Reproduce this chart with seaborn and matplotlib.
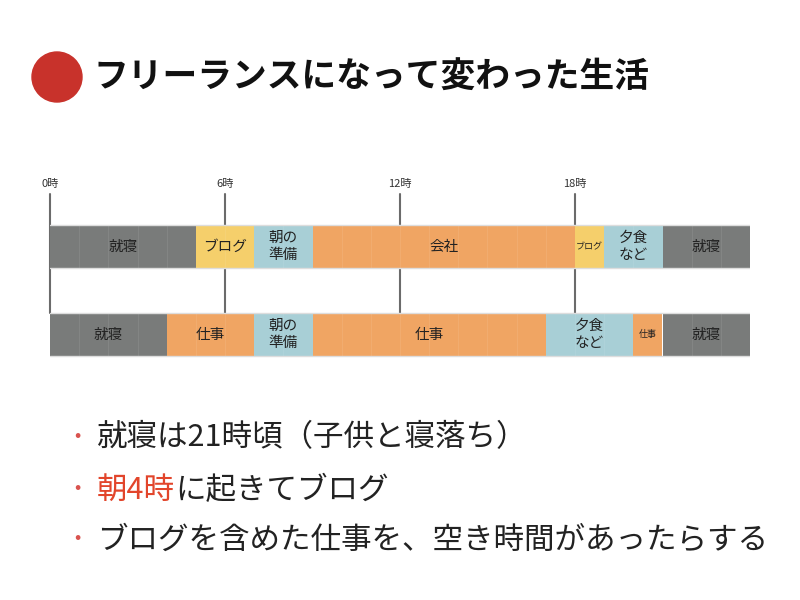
import matplotlib
matplotlib.use("Agg")
import matplotlib.pyplot as plt
import seaborn as sns
from matplotlib.patches import Circle

sns.set_theme(style="white")
FONT = "Noto Sans CJK JP"
plt.rcParams["font.family"] = FONT

# Data: (label, start hour, end hour, kind)
before_labels = ["就寝", "ブログ", "朝の\n準備", "会社", "ブログ", "夕食\nなど", "就寝"]
before_start = [0, 5, 7, 9, 18, 19, 21]
before_end = [5, 7, 9, 18, 19, 21, 24]
before_kind = ["sleep", "blog", "prep", "work", "blog", "dinner", "sleep"]

after_labels = ["就寝", "仕事", "朝の\n準備", "仕事", "夕食\nなど", "仕事", "就寝"]
after_start = [0, 4, 7, 9, 17, 20, 21]
after_end = [4, 7, 9, 17, 20, 21, 24]
after_kind = ["sleep", "work", "prep", "work", "dinner", "work", "sleep"]

tick_hours = [0, 6, 12, 18]
tick_labels = ["0時", "6時", "12時", "18時"]

title = "フリーランスになって変わった生活"
bullets = ["就寝は21時頃（子供と寝落ち）", None, "ブログを含めた仕事を、空き時間があったらする"]

colors = {"sleep": "#797b7a", "blog": "#f5cf6b", "prep": "#a8cfd6",
          "work": "#f0a563", "dinner": "#a8cfd6"}

fig = plt.figure(figsize=(8, 6), dpi=100)
W, H = 800, 600
ax = fig.add_axes([50 / W, 1 - 370 / H, 700 / W, 200 / H])
ax.set_xlim(0, 24)
ax.set_ylim(370, 170)
ax.axis("off")

for h, lab in zip(tick_hours, tick_labels):
    ax.plot([h, h], [194, 313], color="#6b6b6b", lw=1.5, zorder=1, clip_on=False)
    ax.text(h, 184, lab, ha="center", va="center", fontsize=8, color="#333333")

rows = [(225, 268, before_labels, before_start, before_end, before_kind),
        (313, 356, after_labels, after_start, after_end, after_kind)]
for top, bot, labels, st, en, kd in rows:
    for lab, s, e, k in zip(labels, st, en, kd):
        ax.barh((top + bot) / 2, e - s, left=s, height=bot - top,
                color=colors[k], edgecolor="none", zorder=2)
        for hh in range(s + 1, e):
            ax.plot([hh, hh], [top, bot], color="white", alpha=0.08, lw=0.8, zorder=3)
        fs = 6.5 if (e - s) == 1 else 10.5
        ax.text((s + e) / 2, (top + bot) / 2, lab, ha="center", va="center",
                fontsize=fs, color="#222222", zorder=4, linespacing=1.3)
    ax.plot([0, 24], [top, top], color="#dddddd", lw=1, zorder=3)
    ax.plot([0, 24], [bot, bot], color="#dddddd", lw=1, zorder=3)

ov = fig.add_axes([0, 0, 1, 1])
ov.set_xlim(0, W)
ov.set_ylim(H, 0)
ov.axis("off")
ov.add_patch(Circle((57, 77), 25, color="#c8322b"))
ov.text(93, 77, title, fontsize=25, fontweight="bold", va="center", ha="left", color="#111111")

ys = [438, 490, 540]
for y in ys:
    ov.text(77, y, "・", fontsize=16, color="#d9534f", va="center", ha="center")
ov.text(97, ys[0], bullets[0], fontsize=22, va="center", ha="left", color="#222222")
t = ov.text(97, ys[1], "朝4時", fontsize=22, va="center", ha="left", color="#e2452b")
ov.annotate("に起きてブログ", xycoords=t, xy=(1, 0.5), va="center", ha="left",
            fontsize=22, color="#222222")
ov.text(97, ys[2], bullets[2], fontsize=22, va="center", ha="left", color="#222222")

fig.savefig("out.png", dpi=100)
